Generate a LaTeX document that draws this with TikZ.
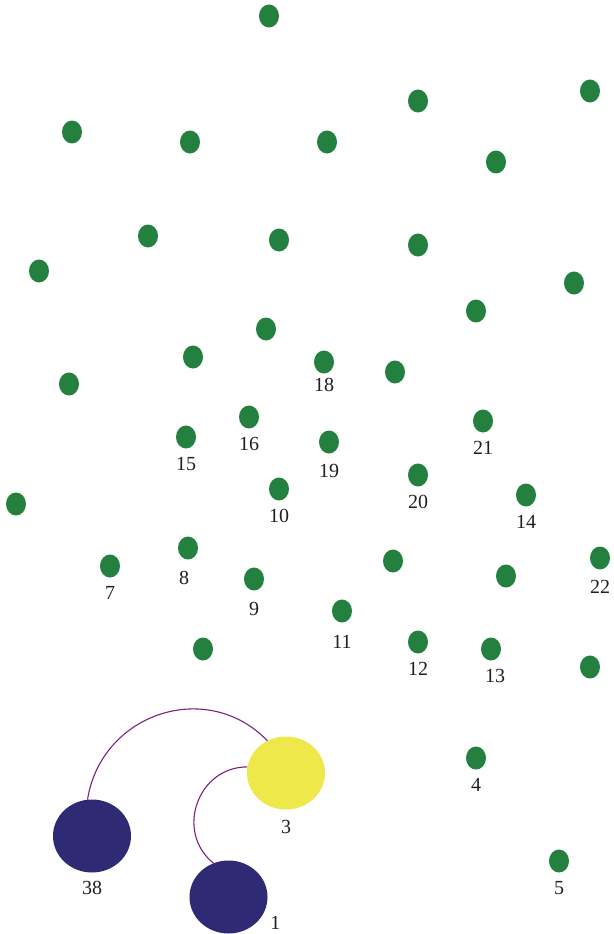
\documentclass[tikz,border=0pt]{standalone}
\usepackage{fontspec}
\setmainfont{Liberation Serif}
\usepackage{tikz}
\usetikzlibrary{shapes.geometric}
\definecolor{dotgreen}{HTML}{23803F}
\definecolor{hub}{HTML}{EEE84A}
\definecolor{navy}{HTML}{2E2A74}
\definecolor{wire}{HTML}{7E2080}
\definecolor{ink}{HTML}{231F20}

\begin{document}
\begin{tikzpicture}[
      x=1pt, y=1pt,
      font=\fontsize{20}{22}\selectfont,
      dot/.style={ellipse, fill=dotgreen, inner sep=0pt,
                  minimum width=20pt, minimum height=23pt},
      big/.style={ellipse, inner sep=0pt,
                  minimum width=78pt, minimum height=73pt},
      seed/.style={big, fill=navy},
      hubnode/.style={big, fill=hub},
      link/.style={wire, line width=1.1pt},
      every label/.style={text=ink, label distance=5pt}
    ]
    \useasboundingbox (0,0) rectangle (613,-934);

    % unlabelled background dots
    \node[dot] (a1)  at (269,-16)  {};
    \node[dot] (a2)  at (418,-101) {};
    \node[dot] (a3)  at (590,-91)  {};
    \node[dot] (a4)  at (72,-132)  {};
    \node[dot] (a5)  at (190,-142) {};
    \node[dot] (a6)  at (327,-142) {};
    \node[dot] (a7)  at (496,-162) {};
    \node[dot] (a8)  at (148,-236) {};
    \node[dot] (a9)  at (279,-240) {};
    \node[dot] (a10) at (418,-245) {};
    \node[dot] (a11) at (39,-271)  {};
    \node[dot] (a12) at (574,-283) {};
    \node[dot] (a13) at (266,-329) {};
    \node[dot] (a14) at (476,-311) {};
    \node[dot] (a15) at (193,-357) {};
    \node[dot] (a16) at (395,-372) {};
    \node[dot] (a17) at (69,-384)  {};
    \node[dot] (a18) at (16,-504)  {};
    \node[dot] (a19) at (393,-561) {};
    \node[dot] (a20) at (506,-576) {};
    \node[dot] (a21) at (590,-667) {};
    \node[dot] (a22) at (203,-649) {};

    % labelled dots
    \node[dot, label={[label distance=1pt]below:18}] (n18) at (324,-362) {};
    \node[dot, label=below:16] (n16) at (249,-417) {};
    \node[dot, label=below:15] (n15) at (186,-437) {};
    \node[dot, label={[label distance=7pt]below:19}] (n19) at (329,-442) {};
    \node[dot, label=below:21] (n21) at (483,-421) {};
    \node[dot, label=below:20] (n20) at (418,-475) {};
    \node[dot, label=below:10] (n10) at (279,-489) {};
    \node[dot, label=below:14] (n14) at (526,-495) {};
    \node[dot, label=below:7]  (n7)  at (110,-566) {};
    \node[dot, label={[xshift=-4pt, label distance=8pt]below:8}] (n8) at (188,-548) {};
    \node[dot, label={[label distance=8pt]below:9}]  (n9)  at (254,-579) {};
    \node[dot, label={[label distance=7pt]below:22}] (n22) at (600,-558) {};
    \node[dot, label={[label distance=9pt]below:11}] (n11) at (342,-611) {};
    \node[dot, label=below:12] (n12) at (418,-642) {};
    \node[dot, label={[xshift=4pt]below:13}] (n13) at (491,-649) {};
    \node[dot, label=below:4]  (n4)  at (476,-758) {};
    \node[dot, label=below:5]  (n5)  at (559,-861) {};

    % the three large nodes
    \node[hubnode, label={[label distance=7pt]below:3}] (n3) at (286,-773) {};
    \node[seed, label=below:38]   (n38) at (92,-836)  {};
    \node[seed, label={[label distance=0pt, xshift=5pt, yshift=4pt]-30:1}]
      (n1) at (228.5,-897) {};

    \draw[link] (n38.97) to[out=81, in=134, looseness=1.18] (n3.120);
    \draw[link] (n3.171) to[out=180, in=141, looseness=1.25] (n1.114);

  \end{tikzpicture}
\end{document}
